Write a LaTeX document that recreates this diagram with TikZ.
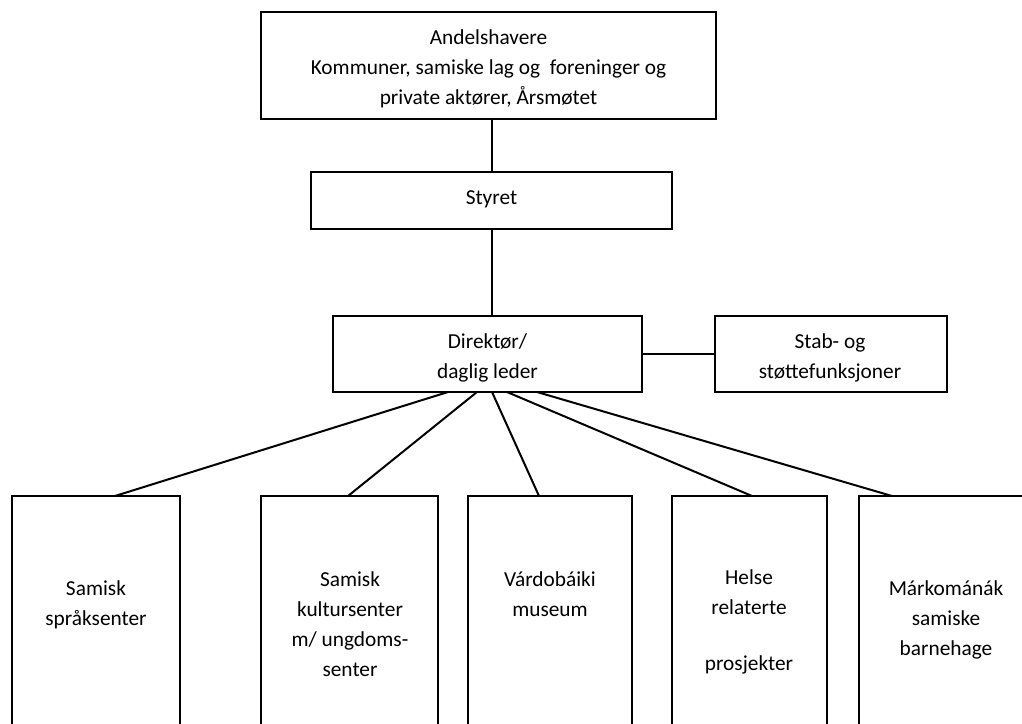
\documentclass[tikz,border=0pt]{standalone}
\usepackage{fontspec}
\setmainfont{Carlito}
\begin{document}
\begin{tikzpicture}[x=0.75pt,y=-0.75pt,
  box/.style={draw, line width=1.5pt, rectangle, inner sep=0pt, outer sep=0pt},
  lbl/.style={align=center, inner sep=0pt, font=\fontsize{16}{22.5}\selectfont},
  conn/.style={line width=1.5pt}]
\useasboundingbox (0,0) rectangle (1022,724);
\clip (0,0) rectangle (1022,724);
% boxes
\node[box, minimum width=341.25pt, minimum height=80.25pt] (top) at (488.5,65.5) {};
\node[box, minimum width=270.75pt, minimum height=42.75pt] (sty) at (491.5,200.5) {};
\node[box, minimum width=231.75pt, minimum height=57pt] (dir) at (487.5,354) {};
\node[box, minimum width=174pt, minimum height=57pt] (stab) at (831,354) {};
\node[box, minimum width=126pt, minimum height=198pt] (b1) at (96,628) {};
\node[box, minimum width=132.75pt, minimum height=198pt] (b2) at (349.5,628) {};
\node[box, minimum width=123pt, minimum height=198pt] (b3) at (550,628) {};
\node[box, minimum width=116.25pt, minimum height=198pt] (b4) at (749.5,628) {};
\node[box, minimum width=150.75pt, minimum height=198pt] (b5) at (959.5,628) {};
% labels
\node[lbl] (ttop) at (488.5,69) {Andelshavere\\Kommuner, samiske lag og\ \ foreninger og\\private aktører, Årsmøtet};
\node[lbl] (tsty) at (491.5,199) {Styret};
\node[lbl] (tdir) at (487.5,358) {Direktør/\\daglig leder};
\node[lbl] (tstab) at (830,358) {Stab- og\\støttefunksjoner};
\node[lbl] (tb1) at (96,605) {Samisk\\språksenter};
\node[lbl] (tb2) at (350,624) {Samisk\\kultursenter\\m/ ungdoms-\\senter};
\node[lbl] (tb3) at (550,594) {Várdobáiki\\museum};
\node[lbl] (tb4) at (749,622) {Helse\\relaterte\\[19pt]prosjekter};
\node[lbl] (tb5) at (946,620) {Márkománák\\samiske\\barnehage};
% connectors
\draw[conn] (top.south -| 492,0) -- (sty.north -| 492,0);
\draw[conn] (sty.south -| 492,0) -- (dir.north -| 492,0);
\draw[conn] (dir.east) -- (stab.west);
\draw[conn] (dir.south -| 448,0) -- (b1.north -| 115,0);
\draw[conn] (dir.south -| 477,0) -- (b2.north -| 348,0);
\draw[conn] (dir.south -| 492,0) -- (b3.north -| 539,0);
\draw[conn] (dir.south -| 507,0) -- (b4.north -| 752,0);
\draw[conn] (dir.south -| 537,0) -- (b5.north -| 892,0);
\end{tikzpicture}
\end{document}
